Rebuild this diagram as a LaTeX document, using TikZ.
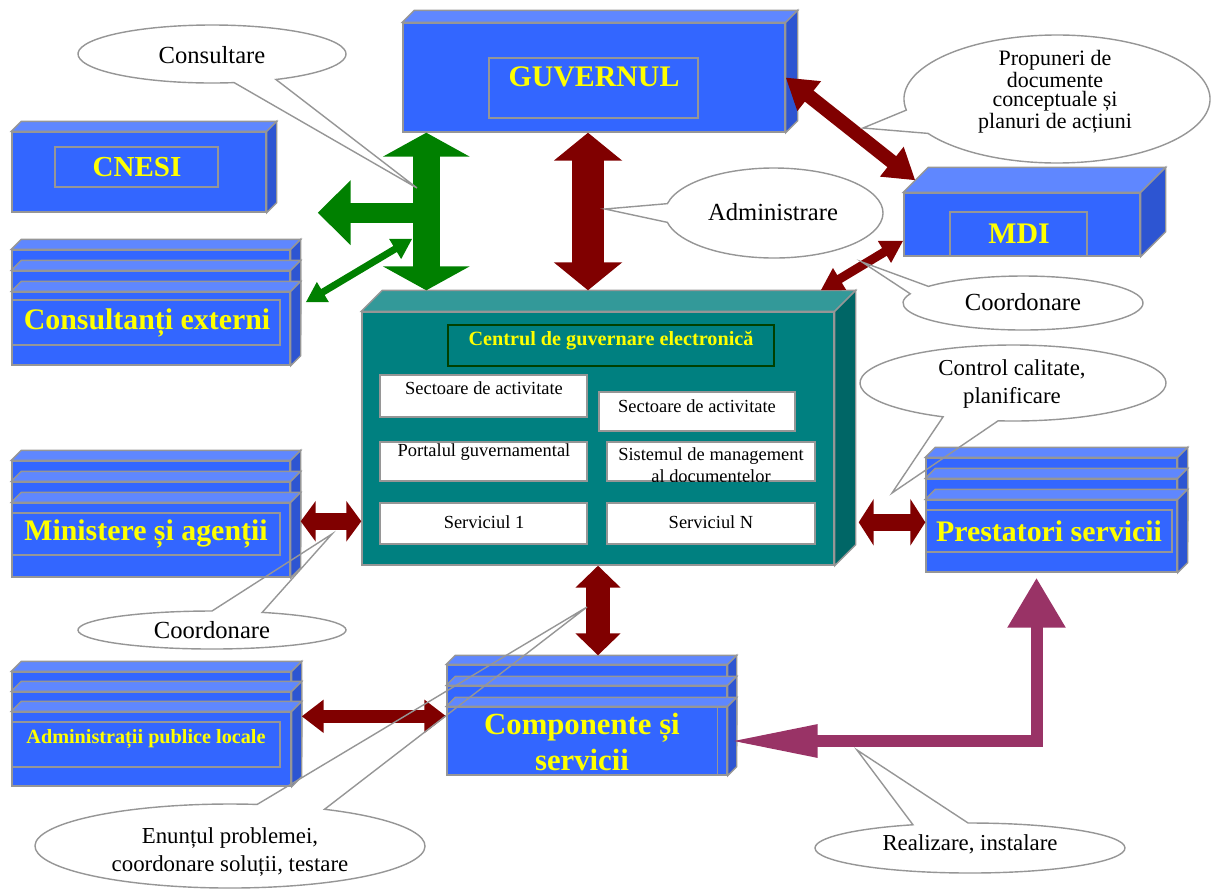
\documentclass[tikz,border=0pt]{standalone}
\usepackage{fontspec}
\setmainfont{Liberation Serif}
\usetikzlibrary{arrows.meta,calc,fit}

\definecolor{bluefront}{RGB}{51,102,255}
\definecolor{bluetop}{RGB}{95,135,255}
\definecolor{blueside}{RGB}{45,85,210}
\definecolor{tealfront}{RGB}{0,128,128}
\definecolor{tealtop}{RGB}{51,153,153}
\definecolor{tealside}{RGB}{0,102,102}
\definecolor{edgegray}{RGB}{150,150,150}
\definecolor{labelyellow}{RGB}{255,255,0}
\definecolor{darkred}{RGB}{128,0,0}
\definecolor{darkgreen}{RGB}{0,128,0}
\definecolor{plum}{RGB}{153,51,102}

\tikzset{
  edge/.style={draw=edgegray, line width=0.8pt},
  boxlabel/.style={text=labelyellow, inner sep=0pt, align=center},
  cell/.style={draw=edgegray, fill=white, line width=0.8pt, inner sep=0pt},
  celltext/.style={font=\fontsize{10.5}{12}\selectfont, inner sep=0pt},
  bubbletext/.style={align=center, inner sep=0pt},
  twoway/.style n args={3}{line width=#1, arrows={Triangle[width=#2,length=#3]-Triangle[width=#2,length=#3]}},
  oneway/.style n args={3}{line width=#1, arrows={-Triangle[width=#2,length=#3]}},
}

% box with top and side faces: [colour](name)(front top left)(front bottom right){depth}
\def\slab[#1](#2)(#3,#4)(#5,#6)#7{%
  \node[edge, fill=#1front, inner sep=0pt, fit={(#3,#4) (#5,#6)}] (#2) {};
  \draw[edge, fill=#1top] (#2.north west) -- ++(#7,-#7) -- ($(#2.north east)+(#7,-#7)$) -- (#2.north east) -- cycle;
  \draw[edge, fill=#1side] (#2.north east) -- ++(#7,-#7) -- ($(#2.south east)+(#7,-#7)$) -- (#2.south east) -- cycle;
  \coordinate (#2-back) at ($(#2.north)+(#7,-#7)$);}
% three slabs one behind the other
\def\stack[#1](#2)(#3,#4)(#5,#6)#7#8{%
  \slab[#1](#2-b)(#3,#4-2*#8)(#5,#6-2*#8){#7}
  \slab[#1](#2-a)(#3,#4-#8)(#5,#6-#8){#7}
  \slab[#1](#2)(#3,#4)(#5,#6){#7}}
% speech bubble: (centre)(rx:ry)(tail start angle:tail end angle)(tip)
\def\bubble(#1)(#2:#3)(#4:#5)(#6){%
  \fill[white] (#1) ellipse [x radius=#2, y radius=#3];
  \draw[edge] ($(#1)+(#5:#2 and #3)$) arc [start angle=#5, end angle={#4+360}, x radius=#2, y radius=#3] -- (#6) -- cycle;}

\begin{document}
\begin{tikzpicture}[x=0.02cm, y=-0.02cm]
  \useasboundingbox (0,0) rectangle (1212,890);

  %%%%% boxes %%%%%
  \slab[blue](guv)(403,23)(785,132){12}
  \node[edge, inner sep=0pt, fit={(489,58) (698,118)}] (guvframe) {};
  \node[boxlabel, font=\fontsize{17}{20}\selectfont\bfseries] (guvlabel) at (594,77) {GUVERNUL};

  \slab[blue](cnesi)(12,132)(266,212){10}
  \node[edge, inner sep=0pt, fit={(55,147) (218,187)}] (cnesiframe) {};
  \node[boxlabel, font=\fontsize{16.5}{18}\selectfont\bfseries] (cnesilabel) at (137,167) {CNESI};

  \stack[blue](cons)(12,292)(290,365){10}{21}
  \node[edge, inner sep=0pt, fit={(12,300) (280,345)}] (consframe) {};
  \node[boxlabel, font=\fontsize{17}{18}\selectfont\bfseries] (conslabel) at (147,323) {Consultanți externi};

  \slab[blue](mdi)(904,193)(1140,256){25}
  \node[edge, inner sep=0pt, fit={(950,212) (1087,256)}] (mdiframe) {};
  \node[boxlabel, font=\fontsize{17}{20}\selectfont\bfseries] (mdilabel) at (1019,234) {MDI};

  \stack[blue](min)(12,503)(290,577){10}{21}
  \node[edge, inner sep=0pt, fit={(12,513) (280,555)}] (minframe) {};
  \node[boxlabel, font=\fontsize{17}{18}\selectfont\bfseries] (minlabel) at (146,534) {Ministere și agenții};

  \stack[blue](adm)(12,712)(291,786){10}{20}
  \node[edge, inner sep=0pt, fit={(12,722) (280,767)}] (admframe) {};
  \node[boxlabel, font=\fontsize{11.5}{13}\selectfont\bfseries] (admlabel) at (146,739) {Administrații publice locale};

  \stack[blue](comp)(447,707)(727,775){9}{21}
  \draw[edge] ($(comp.north east)+(-10,0)$) -- ($(comp.south east)+(-10,0)$);
  \node[boxlabel, font=\fontsize{17.5}{20}\selectfont\bfseries] (complabel) at (582,742) {Componente și\\servicii};

  \stack[blue](prest)(926,500)(1177,572){10}{21}
  \node[edge, inner sep=0pt, fit={(926,510) (1172,552)}] (prestframe) {};
  \node[boxlabel, font=\fontsize{17}{18}\selectfont\bfseries] (prestlabel) at (1049,531) {Prestatori servicii};

  %%%%% centre %%%%%
  \slab[teal](centre)(362,312)(834,565){21}
  \node[draw=black!75!green, line width=1.2pt, fill=tealfront, inner sep=0pt, fit={(448,325) (774,366)}] (title) {};
  \node[boxlabel, font=\fontsize{11.5}{13}\selectfont\bfseries] (titlelabel) at (611,341) {Centrul de guvernare electronică};

  \node[cell, fit={(380,375) (587,417)}] (sect1) {};
  \node[celltext] (sect1label) at (484,388) {Sectoare de activitate};
  \node[cell, fit={(599,392) (795,431)}] (sect2) {};
  \node[celltext] (sect2label) at (697,406) {Sectoare de activitate};
  \node[cell, fit={(380,442) (587,481)}] (portal) {};
  \node[celltext] (portallabel) at (484,452) {Portalul guvernamental};
  \node[cell, fit={(607,442) (815,481)}] (docs) {};
  \begin{scope}
    \clip (docs.south west) rectangle (docs.north east);
    \node[celltext, align=center, font=\fontsize{10.5}{12.5}\selectfont] (docslabel) at (711,465) {Sistemul de management\\al documentelor};
  \end{scope}
  \node[cell, fit={(380,503) (587,544)}] (serv1) {};
  \node[celltext] (serv1label) at (484,522) {Serviciul 1};
  \node[cell, fit={(607,503) (815,544)}] (servn) {};
  \node[celltext] (servnlabel) at (711,522) {Serviciul N};

  %%%%% arrows %%%%%
  \coordinate (greenaxis) at ($(guv.south west)+(24,0)$);
  \coordinate (greensplit) at ($(greenaxis)+(0,80)$);
  \coordinate (cnesiarrow) at ($(cnesi.south east)+(51,0)$);
  \draw[darkgreen, twoway={0.54cm}{1.72cm}{0.48cm}] (greenaxis) -- (greenaxis |- centre-back);
  \draw[darkgreen, oneway={0.4cm}{1.26cm}{0.66cm}] (greensplit) -- (cnesiarrow);
  \draw[darkgreen, twoway={0.14cm}{0.44cm}{0.4cm}] ($(greenaxis)+(-14,106)$) -- ($(cons.north east)+(15,11)$);

  \coordinate (redaxis) at ($(guv.south)+(-6,0)$);
  \draw[darkred, twoway={0.64cm}{1.34cm}{0.56cm}] (redaxis) -- (redaxis |- centre-back);
  \draw[darkred, twoway={0.28cm}{0.72cm}{0.6cm}] (guv.east) -- ($(mdi.north west)+(12,-12)$);
  \draw[darkred, twoway={0.18cm}{0.48cm}{0.44cm}] ($(mdi.south west)!0.25!(mdi.north west)$) -- ($(centre.north east)+(-14,-21)$);

  \coordinate (minarrow) at ($(min.north east)+(10,19)$);
  \draw[darkred, twoway={0.34cm}{0.8cm}{0.3cm}] (minarrow) -- (minarrow -| centre.west);
  \coordinate (prestarrow) at ($(prest.north west)+(0,23)$);
  \draw[darkred, twoway={0.34cm}{0.92cm}{0.3cm}] ($(prestarrow -| centre.east)+(24,0)$) -- (prestarrow);
  \draw[darkred, twoway={0.48cm}{0.88cm}{0.44cm}] (centre.south) -- (comp-b-back -| centre.south);
  \coordinate (admarrow) at ($(adm.north east)+(10,5)$);
  \draw[darkred, twoway={0.26cm}{0.64cm}{0.44cm}] (admarrow) -- (admarrow -| comp.west);

  \draw[plum, line width=0.24cm, arrows={Triangle[width=0.6cm,length=1.8cm]-Triangle[width=1.1cm,length=1cm]}] (comp.east) -| ($(prest.south)+(-15,5)$);

  %%%%% bubbles %%%%%
  \bubble(212,54)(134:29)(61.5:80.5)(417,188)
  \node[bubbletext, font=\fontsize{14}{16}\selectfont] (consultare) at (212,55) {Consultare};

  \bubble(774,213)(109:45)(168:192)(605,209)
  \node[bubbletext, font=\fontsize{14}{16}\selectfont] (administrare) at (773,212) {Administrare};

  \bubble(1057,99)(153:64)(147.5:170)(863,128)
  \node[bubbletext, font=\fontsize{12.5}{11}\selectfont] (propuneri) at (1055,92) {Propuneri de\\documente\\conceptuale și\\planuri de acțiuni};

  \bubble(1023,303)(120:27)(200:218)(862,262)
  \node[bubbletext, font=\fontsize{14}{16}\selectfont] (coordmdi) at (1023,302) {Coordonare};

  \bubble(1013,383)(153:38)(95.6:117.2)(892,493)
  \node[bubbletext, font=\fontsize{13}{16}\selectfont] (control) at (1012,384) {Control calitate,\\planificare};

  \bubble(212,630)(134:19)(270:292)(332,534)
  \node[bubbletext, font=\fontsize{14}{16}\selectfont] (coordmin) at (212,630) {Coordonare};

  \bubble(230,846)(195:42)(278:299)(587,607)
  \node[bubbletext, font=\fontsize{13}{16}\selectfont] (enunt) at (230,852) {Enunțul problemei,\\coordonare soluții, testare};

  \bubble(970,848)(155:25)(248.4:269.3)(857,750)
  \node[bubbletext, font=\fontsize{13}{16}\selectfont] (realizare) at (970,844) {Realizare, instalare};
\end{tikzpicture}
\end{document}
